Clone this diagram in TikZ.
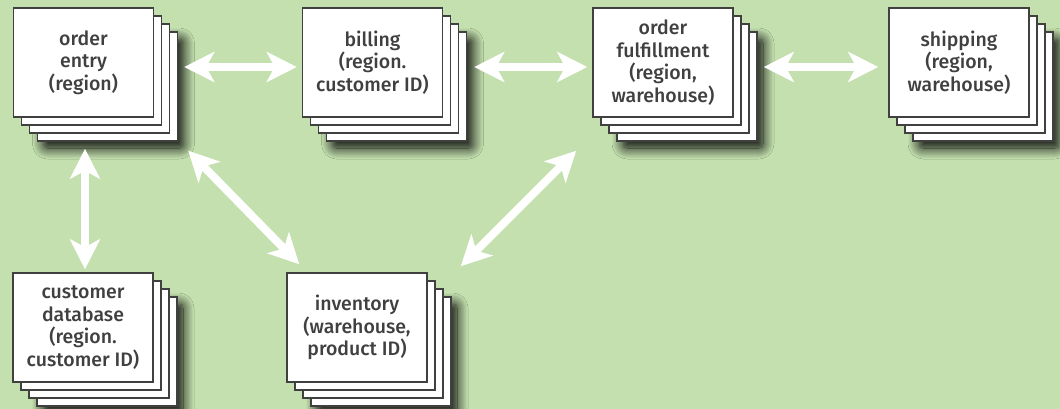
\documentclass[tikz,border=0pt]{standalone}
\usepackage{fontspec}
\setmainfont{Fira Sans}[UprightFont=* Medium]
\usetikzlibrary{arrows.meta,shadows.blur,calc}

\definecolor{bggreen}{HTML}{C3E0AE}
\definecolor{inkgray}{HTML}{404040}

\tikzset{
  sheet/.style={rectangle, draw=inkgray, line width=1.5pt, fill=white,
    minimum width=140pt, minimum height=109pt, inner sep=0pt,
    align=center, text=inkgray,
    font=\fontsize{19.5pt}{22.5pt}\selectfont},
  stackshadow/.style={blur shadow={shadow xshift=6pt, shadow yshift=-7pt,
    shadow opacity=100, shadow blur radius=11pt, shadow blur steps=16,
    shadow blur extra rounding=4pt}},
  link/.style={draw=white, line width=8pt,
    {Stealth[length=30pt,width=30pt,inset=8pt]}-{Stealth[length=30pt,width=30pt,inset=8pt]}}
}

% a stack of four sheets; the front one is the named node
\newcommand\sheetstack[3]{%
  \node[sheet, stackshadow] at ($(#2)+(24,24)$) {};
  \node[sheet] at ($(#2)+(16,16)$) {};
  \node[sheet] at ($(#2)+(8,8)$) {};
  \node[sheet] (#1) at (#2) {#3};
}

\begin{document}
\begin{tikzpicture}[x=1pt, y=-1pt]
  \useasboundingbox (0,0) rectangle (1060,409);
  \fill[bggreen] (0,0) rectangle (1060,409);

  \sheetstack{entry}{83.5,62.5}{order\\entry\\(region)}
  \sheetstack{billing}{372.5,62.5}{billing\\(region.\\customer ID)}
  \sheetstack{fulfil}{663,62.5}{order\\fulfillment\\(region,\\warehouse)}
  \sheetstack{shipping}{959,62.5}{shipping\\(region,\\warehouse)}
  \sheetstack{custdb}{83,327.5}{customer\\database\\(region.\\customer ID)}
  \sheetstack{inventory}{357,327.5}{inventory\\(warehouse,\\product ID)}

  \draw[link] ([shift={(30,4.5)}]entry.east) -- ([shift={(-5,4.5)}]billing.west);
  \draw[link] ([shift={(31,4.5)}]billing.east) -- ([shift={(-5,4.5)}]fulfil.west);
  \draw[link] ([shift={(30,4.5)}]fulfil.east) -- ([shift={(-10,4.5)}]shipping.west);
  \draw[link] ([shift={(1.5,31)}]entry.south) -- ([shift={(2,-3)}]custdb.north);
  \draw[link] ([shift={(34,33)}]entry.south east) -- ([shift={(13,-8)}]inventory.north west);
  \draw[link] ([shift={(-16,33)}]fulfil.south west) -- ([shift={(33,-6)}]inventory.north east);
\end{tikzpicture}
\end{document}
